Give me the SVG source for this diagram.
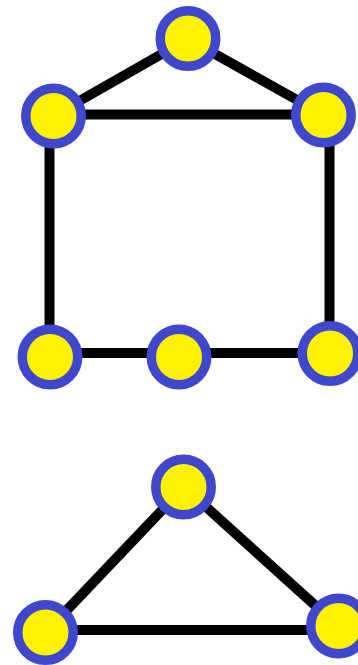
<svg xmlns="http://www.w3.org/2000/svg" width="358" height="665" viewBox="0 0 358 665">
  <style>
    .edge { stroke: #000000; stroke-width: 10; fill: none; }
    .node { fill: #FFF200; stroke: #3F48CC; stroke-width: 9.5; }
  </style>
  <rect width="358" height="665" fill="#FFFFFF"/>
  <g id="connectors">
    <!-- house graph -->
    <line class="edge" x1="53" y1="116" x2="188" y2="39" stroke-width="8"/>
    <line class="edge" x1="188" y1="39" x2="324" y2="115" stroke-width="8"/>
    <line class="edge" x1="53" y1="114.5" x2="324" y2="114.5"/>
    <line class="edge" x1="49.5" y1="116" x2="49.5" y2="356"/>
    <line class="edge" x1="329.5" y1="115" x2="329.5" y2="353"/>
    <line class="edge" x1="50" y1="353" x2="330" y2="353"/>
    <!-- triangle graph -->
    <line class="edge" x1="184" y1="487" x2="46" y2="632" stroke-width="8.5"/>
    <line class="edge" x1="184" y1="487" x2="338" y2="626" stroke-width="8.5"/>
    <line class="edge" x1="46" y1="630" x2="338" y2="630"/>
  </g>
  <g id="n1"><circle class="node" cx="188" cy="38.5" r="27.75"/></g>
  <g id="n2"><circle class="node" cx="53.5" cy="116" r="27.75"/></g>
  <g id="n3"><circle class="node" cx="323.5" cy="115" r="27.75"/></g>
  <g id="n4"><circle class="node" cx="50" cy="357" r="27.75"/></g>
  <g id="n5"><circle class="node" cx="179" cy="357" r="27.75"/></g>
  <g id="n6"><circle class="node" cx="330" cy="353.5" r="27.75"/></g>
  <g id="n7"><circle class="node" cx="183.5" cy="487" r="27.75"/></g>
  <g id="n8"><circle class="node" cx="45.5" cy="632.5" r="27.75"/></g>
  <g id="n9"><circle class="node" cx="338.5" cy="626" r="27.75"/></g>
</svg>
